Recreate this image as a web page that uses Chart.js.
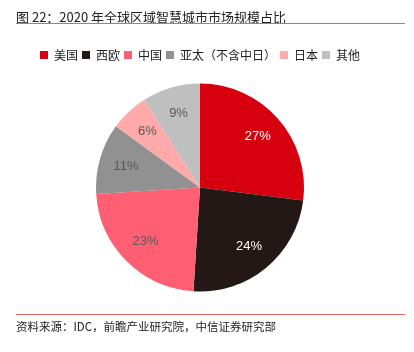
<!DOCTYPE html>
<html><head><meta charset="utf-8">
<script src="https://cdn.jsdelivr.net/npm/chart.js@4"></script>
<style>
html,body{margin:0;padding:0;background:#fff;}
#wrap{position:relative;width:414px;height:352px;overflow:hidden;font-family:"Noto Sans CJK SC","Liberation Sans",sans-serif;}
#title{position:absolute;left:16px;top:7px;font-size:13px;color:#222;white-space:nowrap;}
#l1{position:absolute;left:16px;width:389px;top:23px;height:1px;background:#e06666;}
#l2{position:absolute;left:16px;width:389px;top:314px;height:1px;background:#e06666;}
#src{position:absolute;left:16px;top:318px;font-size:11.5px;color:#222;white-space:nowrap;}
#cv{position:absolute;left:0;top:0;}
</style></head><body>
<div id="wrap">
<canvas id="cv" width="414" height="352"></canvas>
<div id="title">图 22：2020 年全球区域智慧城市市场规模占比</div>
<div id="l1"></div>
<div id="l2"></div>
<div id="src">资料来源：IDC，前瞻产业研究院，中信证券研究部</div>
</div>
<script>
const categories = ["美国","西欧","中国","亚太（不含中日）","日本","其他"];
const shares = [27,24,23,11,6,9];
const colors = ["#D7000F","#231815","#FF5F73","#919191","#FFAAAA","#BFBFBF"];
const labelColors = ["#ffffff","#ffffff","#595959","#595959","#595959","#595959"];

const pctLabels = {
  id:'pctLabels',
  afterDatasetsDraw(chart){
    const ctx = chart.ctx;
    const meta = chart.getDatasetMeta(0);
    ctx.save();
    ctx.font = '13px "Liberation Sans", "Open Sans", sans-serif';
    ctx.textAlign='center';ctx.textBaseline='middle';
    meta.data.forEach((arc,i)=>{
      const p = arc.getProps(['startAngle','endAngle','outerRadius','x','y'],true);
      const mid=(p.startAngle+p.endAngle)/2;
      const r=p.outerRadius*0.74;
      ctx.fillStyle=labelColors[i];
      ctx.fillText(shares[i]+'%', p.x+Math.cos(mid)*r, p.y+Math.sin(mid)*r);
    });
    ctx.restore();
  }
};

new Chart(document.getElementById('cv'),{
  type:'pie',
  data:{labels:categories,datasets:[{data:shares,backgroundColor:colors,borderWidth:0,radius:104}]},
  options:{
    responsive:false,animation:false,
    layout:{padding:{top:45,bottom:48,left:0,right:14}},
    plugins:{
      tooltip:{enabled:false},
      legend:{position:'top',labels:{boxWidth:8,boxHeight:8,padding:4,color:'#222',
        font:{size:12,family:'"Noto Sans CJK SC", sans-serif'}}}
    }
  },
  plugins:[pctLabels]
});
</script>
</body></html>
